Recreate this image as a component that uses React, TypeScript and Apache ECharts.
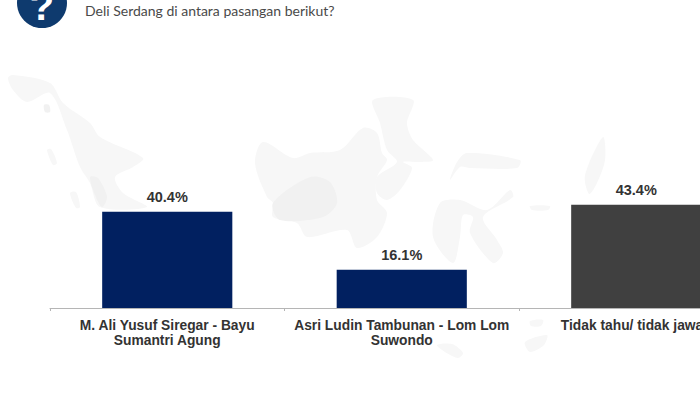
import React, { useEffect, useRef } from "react";
import * as echarts from "echarts";

const categories = [
  "M. Ali Yusuf Siregar - Bayu\nSumantri Agung",
  "Asri Ludin Tambunan - Lom Lom\nSuwondo",
  "Tidak tahu/ tidak jawab",
];
const values = [40.4, 16.1, 43.4];
const barColors = ["#012060", "#012060", "#404040"];
const questionText = "Deli Serdang di antara pasangan berikut?";

const mapLight: number[][][] = [
  [[8,78],[13,75],[50,83],[63,103],[90,123],[100,137],[143,158],[133,167],[115,177],[123,193],[147,207],[100,207],[90,183],[80,167],[67,130],[50,93],[27,102],[13,90]],
  [[263,142],[293,158],[310,153],[340,150],[363,128],[377,133],[382,153],[387,160],[377,177],[377,200],[387,213],[377,237],[357,248],[347,230],[307,237],[297,223],[273,217],[273,203],[267,197],[255,163]],
  [[373,100],[413,100],[407,123],[413,140],[433,160],[420,162],[403,162],[412,168],[400,190],[387,200],[377,193],[377,177],[397,162],[387,150],[380,123]],
  [[440,203],[460,200],[487,210],[510,190],[513,197],[483,217],[497,240],[503,253],[493,263],[470,233],[473,217],[463,215],[460,237],[453,263],[433,237]],
  [[450,180],[457,162],[467,153],[520,160],[517,168],[470,168],[460,167]],
  [[603,137],[605,160],[596,185],[589,194],[585,175]],
  [[70,193],[76,192],[80,207],[76,208]],
  [[47,150],[51,149],[57,163],[53,165]],
  [[437,345],[452,344],[463,353],[458,358],[445,352]],
  [[525,342],[547,335],[544,345],[530,352]],
  [[530,321],[543,320],[541,326],[531,326]],
  [[530,206],[550,206],[548,210],[532,210]],
];
const mapDark: number[][][] = [
  [[273,203],[310,177],[330,182],[337,203],[323,217],[280,220]],
  [[90,177],[98,178],[107,197],[102,207],[95,195]],
  [[44,105],[49,105],[50,112],[45,112]],
];

export default function App() {
  const ref = useRef<HTMLDivElement>(null);
  useEffect(() => {
    const chart = echarts.init(ref.current!, null, { renderer: "svg" });
    const poly = (points: number[][], fill: string) => ({
      type: "polygon",
      silent: true,
      z: 0,
      shape: { points, smooth: 0.3 },
      style: { fill },
    });
    chart.setOption({
      animation: false,
      backgroundColor: "#ffffff",
      graphic: [
        ...mapLight.map((p) => poly(p, "#f7f7f7")),
        ...mapDark.map((p) => poly(p, "#f1f1f1")),
        { type: "circle", z: 1, shape: { cx: 42, cy: 3, r: 25 }, style: { fill: "#0e3a6e" } },
        {
          type: "text", z: 2, x: 42, y: 26,
          style: { text: "?", fill: "#ffffff", font: "bold 40px 'Liberation Sans'", align: "center", verticalAlign: "bottom" },
        },
        {
          type: "text", z: 2, x: 85, y: 10,
          style: { text: questionText, fill: "#4a4a4a", font: "14px Lato", align: "left", verticalAlign: "middle" },
        },
      ],
      grid: { left: 50, top: 189, width: 703.5, height: 119, outerBoundsMode: "none" },
      xAxis: {
        type: "category",
        data: categories,
        axisLine: { lineStyle: { color: "#b5b5b5", width: 1 } },
        axisTick: { show: true, length: 3, lineStyle: { color: "#b5b5b5" } },
        axisLabel: {
          interval: 0, margin: 10, hideOverlap: false,
          color: "#333333", fontFamily: "Liberation Sans", fontWeight: "bold", fontSize: 13.8, lineHeight: 15,
        },
      },
      yAxis: { type: "value", min: 0, max: 50, show: false, splitLine: { show: false } },
      series: [
        {
          type: "bar",
          barWidth: "55.5%",
          data: values.map((value, i) => ({ value, itemStyle: { color: barColors[i] } })),
          label: {
            show: true, position: "top", distance: 7,
            formatter: (p: any) => p.value.toFixed(1) + "%",
            color: "#333333", fontFamily: "Liberation Sans", fontWeight: "bold", fontSize: 14.5,
          },
        },
      ],
    });
    return () => chart.dispose();
  }, []);
  return <div ref={ref} style={{ position: "absolute", left: 0, top: 0, width: 700, height: 400 }} />;
}
